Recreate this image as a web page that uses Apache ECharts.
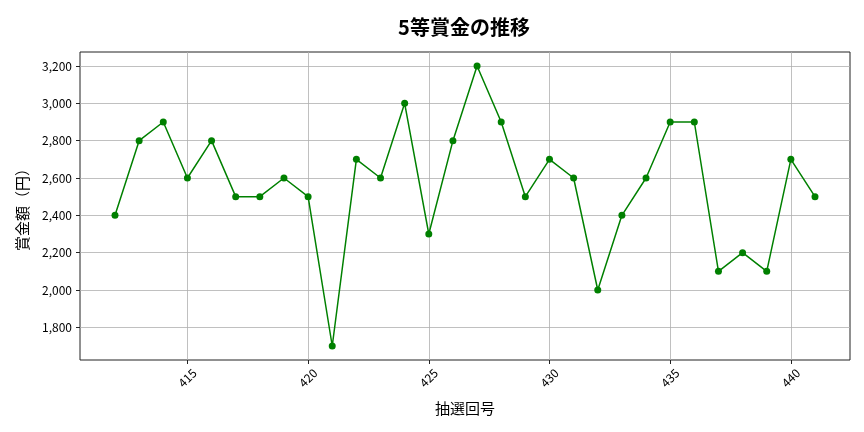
<!DOCTYPE html>
<html><head><meta charset="utf-8">
<script src="https://cdn.jsdelivr.net/npm/echarts@6/dist/echarts.min.js"></script>
<style>html,body{margin:0;padding:0;background:#fff}#c{width:864px;height:432px}</style>
</head><body><div id="c"></div>
<script>
const draws = [412,413,414,415,416,417,418,419,420,421,422,423,424,425,426,427,428,429,430,431,432,433,434,435,436,437,438,439,440,441];
const prizes = [2400,2800,2900,2600,2800,2500,2500,2600,2500,1700,2700,2600,3000,2300,2800,3200,2900,2500,2700,2600,2000,2400,2600,2900,2900,2100,2200,2100,2700,2500];
const xTicks = [415,420,425,430,435,440];
const yTicks = [1800,2000,2200,2400,2600,2800,3000,3200];
const FONT = '"Noto Sans CJK JP","Noto Sans",sans-serif';
const chart = echarts.init(document.getElementById('c'));
chart.setOption({
  animation:false,
  title:{text:'5等賞金の推移',left:459,top:12,textAlign:'center',textStyle:{fontFamily:FONT,fontSize:20,fontWeight:'bold',color:'#000'}},
  grid:{left:80,right:14,top:52,bottom:72,show:true,borderColor:'#222',borderWidth:1,containLabel:false},
  xAxis:{type:'value',min:410.55,max:442.45,
    name:'抽選回号',nameLocation:'middle',nameGap:41,nameTextStyle:{fontFamily:FONT,fontSize:15,color:'#000'},
    axisLine:{show:false},
    axisTick:{show:true,length:4,inside:false,lineStyle:{color:'#222'},customValues:xTicks},
    axisLabel:{customValues:xTicks,rotate:45,align:'center',verticalAlign:'middle',fontFamily:FONT,fontSize:12,color:'#000',margin:18},
    splitLine:{show:true,lineStyle:{color:'#b0b0b0',width:0.8}}},
  yAxis:{type:'value',min:1625,max:3275,
    name:'賞金額（円）',nameLocation:'middle',nameGap:50,nameRotate:90,nameTextStyle:{fontFamily:FONT,fontSize:15,color:'#000'},
    axisLine:{show:false},
    axisTick:{show:true,length:4,lineStyle:{color:'#222'},customValues:yTicks},
    axisLabel:{customValues:yTicks,fontFamily:FONT,fontSize:12,color:'#000',margin:8,
      formatter:v=>v.toLocaleString('en-US')},
    splitLine:{show:true,lineStyle:{color:'#b0b0b0',width:0.8}}},
  series:[{type:'line',data:draws.map((d,i)=>[d,prizes[i]]),
    lineStyle:{color:'#008000',width:1.5},itemStyle:{color:'#008000'},
    symbol:'circle',symbolSize:7,showSymbol:true}]
});
</script></body></html>
